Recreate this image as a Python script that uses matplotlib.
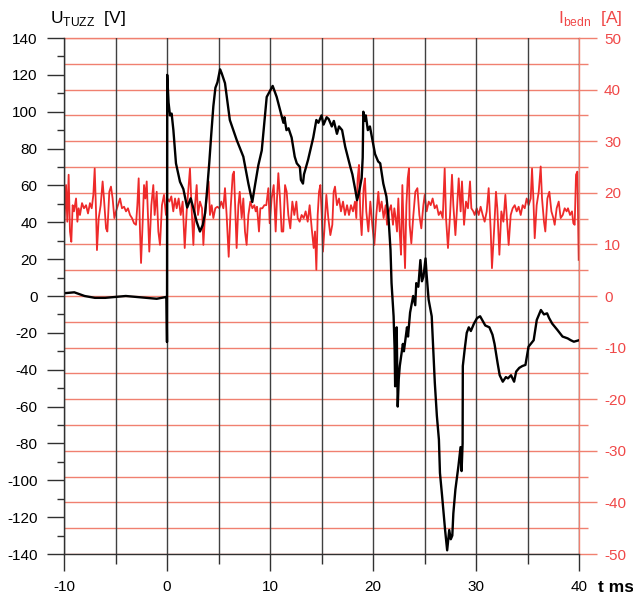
import matplotlib
matplotlib.use('Agg')
import numpy as np
import matplotlib.pyplot as plt
from matplotlib.ticker import MultipleLocator

plt.rcParams['font.family'] = ['Liberation Sans', 'DejaVu Sans']
plt.rcParams['mathtext.fontset'] = 'custom'
plt.rcParams['mathtext.rm'] = 'Liberation Sans'
plt.rcParams['axes.unicode_minus'] = False

# ── Data ────────────────────────────────────────────────────────────────────

# U_TUZZ [V] vs t [ms]
t_u = [-10.0, -9.0, -8.5, -8.0, -7.5, -7.0, -6.0, -5.0, -4.0, -3.0, -2.0,
       -1.0, -0.5, -0.05, 0.0, 0.02, 0.15, 0.29, 0.45, 0.62, 0.87, 1.26,
       1.59, 1.96, 2.3, 2.56, 2.88, 3.2, 3.47, 3.7, 3.9, 4.1, 4.3, 4.5, 4.7,
       4.9, 5.15, 5.3, 5.63, 6.1, 6.77, 7.41, 7.9, 8.28, 8.54, 8.87, 9.2,
       9.68, 10.26, 10.65, 10.97, 11.3, 11.4, 11.6, 11.8, 12.1, 12.4, 12.6,
       12.9, 13.0, 13.2, 13.3, 13.4, 13.7, 14.2, 14.5, 14.7, 15.0, 15.2,
       15.5, 15.7, 16.0, 16.2, 16.5, 16.7, 17.0, 17.3, 17.8, 18.0, 18.3,
       18.45, 18.6, 18.9, 19.0, 19.06, 19.2, 19.3, 19.5, 19.7, 19.9, 20.2,
       20.5, 20.7, 21.0, 21.3, 21.5, 21.7, 21.8, 22.0, 22.1, 22.15, 22.2,
       22.3, 22.4, 22.5, 22.6, 22.9, 23.0, 23.3, 23.4, 23.6, 23.9, 24.1,
       24.2, 24.4, 24.6, 24.75, 24.9, 25.1, 25.2, 25.4, 25.7, 26.0, 26.2,
       26.4, 26.5, 26.7, 27.0, 27.2, 27.4, 27.55, 27.7, 27.8, 28.0, 28.3,
       28.5, 28.6, 28.7, 28.72, 28.9, 29.1, 29.3, 29.5, 29.8, 30.1, 30.4,
       30.7, 30.9, 31.3, 31.6, 31.8, 32.1, 32.3, 32.6, 32.9, 33.1, 33.4,
       33.7, 33.9, 34.2, 34.5, 34.8, 35.1, 35.6, 35.9, 36.3, 36.6, 36.9,
       37.1, 37.4, 37.9, 38.4, 38.9, 39.2, 39.5, 40.0]
u_tuzz = [1.5, 2.0, 1.0, 0.0, -0.5, -1.0, -1.0, -0.5, 0.0, -0.5, -1.0,
          -1.5, -1.0, -0.5, -25.0, 120.0, 105.0, 98.0, 99.0, 90.0, 72.0, 62.0,
          58.0, 48.0, 53.0, 47.6, 40.3, 35.0, 38.5, 45.0, 58.0, 72.0, 88.0,
          103.0, 113.0, 116.0, 123.0, 121.0, 115.5, 95.5, 84.6, 75.6, 61.0,
          51.0, 60.0, 71.0, 79.0, 108.0, 114.0, 108.0, 101.0, 94.0, 97.0,
          90.0, 91.0, 86.0, 75.6, 72.0, 70.0, 63.0, 61.0, 66.0, 68.0, 74.0,
          86.0, 95.5, 94.0, 98.0, 93.0, 97.0, 96.0, 92.0, 95.0, 88.0, 92.0,
          90.0, 81.0, 70.0, 66.0, 57.0, 52.0, 55.0, 64.0, 75.0, 100.0, 95.0,
          98.0, 90.0, 92.0, 86.0, 77.0, 73.0, 72.0, 61.0, 54.0, 43.0, 25.0,
          7.0, -11.0, -29.0, -49.0, -30.0, -17.0, -60.0, -45.0, -38.0, -26.0,
          -30.0, -17.0, -22.0, -9.0, 0.0, -5.0, 7.0, 5.0, 19.5, 8.0, 10.5,
          20.4, 12.0, -2.0, -11.0, -47.0, -65.0, -78.0, -96.0, -108.0, -127.0,
          -138.0, -127.0, -132.0, -130.0, -118.0, -105.0, -92.0, -82.0, -95.0,
          -80.0, -38.0, -29.0, -20.0, -17.0, -19.0, -15.0, -12.0, -11.0, -14.0,
          -16.0, -17.0, -21.0, -26.0, -36.5, -43.0, -46.5, -44.0, -44.7, -43.0,
          -46.5, -41.0, -39.0, -38.0, -37.4, -27.5, -24.0, -13.0, -7.6, -10.0,
          -9.4, -12.0, -15.0, -18.4, -22.0, -23.0, -24.0, -24.8, -24.0]

# I_bedn [A] vs t [ms]
t_i = [-10.0, -9.80, -9.68, -9.55, -9.42, -9.29, -9.16, -9.03, -8.83, -8.70,
       -8.58, -8.45, -8.25, -8.06, -7.86, -7.67, -7.48, -7.31, -7.15, -7.02,
       -6.89, -6.80, -6.63, -6.44, -6.25, -6.12, -5.92, -5.79, -5.60, -5.44,
       -5.28, -5.11, -4.95, -4.76, -4.56, -4.37, -4.17, -3.98, -3.79, -3.59,
       -3.40, -3.20, -3.01, -2.88, -2.75, -2.62, -2.52, -2.36, -2.23, -2.10,
       -1.97, -1.85, -1.72, -1.52, -1.33, -1.20, -1.00, -0.84, -0.68, -0.49,
       -0.29, -0.10, 0.03, 0.23, 0.42, 0.61, 0.78, 0.94, 1.13, 1.33, 1.52,
       1.72, 1.91, 2.10, 2.23, 2.39, 2.56, 2.72, 2.88, 3.01, 3.20, 3.40,
       3.53, 3.69, 3.85, 4.04, 4.17, 4.34, 4.50, 4.69, 4.89, 5.08, 5.27,
       5.47, 5.63, 5.79, 5.99, 6.18, 6.38, 6.50, 6.63, 6.76, 6.93, 7.06,
       7.25, 7.41, 7.57, 7.73, 7.90, 8.09, 8.29, 8.48, 8.61, 8.74, 8.93,
       9.06, 9.26, 9.45, 9.64, 9.84, 9.97, 10.16, 10.36, 10.55, 10.68, 10.81,
       10.97, 11.13, 11.29, 11.46, 11.62, 11.78, 11.97, 12.17, 12.36, 12.56,
       12.69, 12.88, 13.07, 13.27, 13.46, 13.66, 13.85, 14.05, 14.24, 14.37,
       14.50, 14.63, 14.76, 14.89, 15.02, 15.14, 15.27, 15.47, 15.66, 15.86,
       16.05, 16.18, 16.31, 16.50, 16.70, 16.89, 17.09, 17.28, 17.48, 17.67,
       17.86, 18.06, 18.25, 18.38, 18.51, 18.64, 18.77, 18.90, 19.09, 19.22,
       19.35, 19.55, 19.74, 19.93, 20.13, 20.32, 20.52, 20.65, 20.84, 21.03,
       21.23, 21.36, 21.55, 21.75, 21.94, 22.07, 22.20, 22.33, 22.46, 22.59,
       22.72, 22.85, 22.98, 23.11, 23.24, 23.37, 23.49, 23.56, 23.72, 23.92,
       24.11, 24.31, 24.50, 24.69, 24.89, 25.02, 25.21, 25.41, 25.60, 25.79,
       25.99, 26.18, 26.38, 26.57, 26.77, 26.96, 27.09, 27.28, 27.48, 27.67,
       27.80, 28.00, 28.12, 28.32, 28.51, 28.64, 28.84, 29.03, 29.22, 29.42,
       29.55, 29.74, 29.87, 30.07, 30.26, 30.45, 30.65, 30.84, 31.04, 31.23,
       31.43, 31.55, 31.75, 31.94, 32.07, 32.27, 32.46, 32.66, 32.85, 32.98,
       33.17, 33.37, 33.56, 33.76, 33.95, 34.14, 34.34, 34.53, 34.73, 34.92,
       35.11, 35.31, 35.44, 35.57, 35.70, 35.89, 36.09, 36.28, 36.41, 36.60,
       36.73, 36.93, 37.12, 37.32, 37.51, 37.64, 37.83, 38.03, 38.22, 38.42,
       38.61, 38.80, 38.93, 39.13, 39.32, 39.45, 39.58, 39.71, 39.84, 39.97]
i_bedn = [12.5, 21.5, 14.4, 23.5, 12.5, 10.5, 17.6, 16.4, 18.9, 14.4,
          17.0, 15.7, 18.0, 17.0, 17.6, 16.0, 18.0, 17.0, 19.6, 24.7,
          16.4, 8.9, 15.1, 17.6, 22.2, 18.9, 13.1, 12.5, 20.2, 21.2,
          18.9, 15.1, 16.4, 17.6, 18.9, 17.0, 17.3, 16.4, 17.0, 15.7,
          15.1, 14.1, 13.8, 17.6, 22.8, 12.5, 6.4, 14.4, 21.5, 18.9,
          22.2, 15.7, 8.6, 17.6, 21.5, 15.7, 20.2, 12.5, 9.9, 17.6,
          19.6, 15.7, 18.9, 18.3, 19.3, 16.4, 18.9, 17.0, 18.9, 15.7, 18.3,
          9.3, 16.4, 21.5, 24.7, 17.0, 9.9, 17.6, 21.5, 15.7, 18.3, 17.0,
          9.9, 15.7, 18.9, 22.2, 15.7, 17.6, 15.1, 17.0, 17.3, 17.0, 18.3,
          17.0, 20.9, 15.7, 7.6, 17.0, 23.5, 24.1, 16.4, 9.3, 17.6, 20.2,
          15.1, 18.9, 12.5, 9.9, 15.7, 18.3, 17.0, 17.6, 16.4, 17.3, 12.5,
          17.0, 17.0, 17.6, 17.6, 20.9, 14.1, 18.9, 21.5, 12.5, 18.9, 23.8,
          18.9, 12.5, 12.5, 21.5, 20.2, 15.7, 13.1, 18.3, 15.7, 18.3,
          15.1, 14.4, 15.7, 15.1, 16.4, 14.4, 17.6, 13.1, 9.3, 12.5,
          5.1, 15.7, 20.2, 21.5, 15.7, 8.6, 12.5, 19.6, 15.1, 11.8,
          13.8, 20.2, 21.2, 17.6, 18.9, 16.4, 18.3, 15.7, 17.6, 15.7,
          17.6, 16.4, 18.3, 15.1, 22.8, 25.4, 15.7, 11.8, 20.9, 22.8,
          16.4, 12.5, 18.3, 13.8, 9.9, 15.7, 20.2, 16.4, 18.3, 15.1,
          17.6, 13.8, 16.4, 17.6, 13.8, 17.0, 15.1, 12.5, 18.9, 12.5,
          8.0, 21.5, 12.5, 5.4, 17.6, 22.8, 24.7, 13.8, 10.2, 15.7,
          20.2, 20.9, 15.7, 13.1, 17.6, 19.6, 16.4, 18.3, 17.6, 18.9,
          17.0, 17.6, 15.7, 16.4, 15.1, 24.7, 15.1, 9.3, 15.7, 23.5,
          17.6, 11.8, 15.7, 22.8, 16.4, 22.2, 13.8, 18.3, 17.0, 22.2,
          17.0, 16.4, 15.7, 17.0, 15.7, 17.3, 15.7, 14.4, 16.4, 20.9,
          12.5, 5.4, 12.5, 20.2, 17.0, 8.0, 16.4, 14.4, 19.6, 15.7,
          9.9, 15.7, 17.0, 17.6, 16.4, 17.3, 15.7, 17.6, 17.0, 18.9,
          17.6, 18.9, 24.7, 18.9, 11.2, 17.6, 20.2, 25.1, 18.9, 14.4,
          12.5, 18.9, 20.2, 16.4, 15.1, 13.8, 17.0, 18.3, 15.1, 15.7,
          17.0, 16.4, 17.0, 15.7, 16.4, 14.1, 13.8, 23.5, 24.1, 7.0]

x_major = [-10, 0, 10, 20, 30, 40]
u_major = list(range(-140, 141, 20))
i_major = list(range(-50, 51, 10))

RED_GRID = '#f08070'
RED_TEXT = '#f04848'
RED_LINE = '#ee2a2a'

# ── Figure ──────────────────────────────────────────────────────────────────

fig = plt.figure(figsize=(6.33, 6.0), dpi=100)
ax = fig.add_axes([64 / 633, 46 / 600, 515 / 633, 516 / 600])
ax2 = ax.twinx()
ax.set_zorder(ax2.get_zorder() + 1)
ax.patch.set_visible(False)

# Corriente (eje derecho)
ax2.plot(t_i, i_bedn, color=RED_LINE, linewidth=1.3)
ax2.set_ylim(-50, 50)
ax2.set_yticks(i_major)
ax2.yaxis.set_minor_locator(MultipleLocator(5))
ax2.grid(True, axis='y', which='both', color=RED_GRID, linewidth=1.0)
ax2.tick_params(axis='y', which='major', length=13, width=1.0,
                color=RED_GRID, labelcolor=RED_TEXT, labelsize=11, pad=5)
ax2.tick_params(axis='y', which='minor', length=6.5, width=1.0,
                color=RED_GRID)
for side in ('left', 'bottom'):
    ax2.spines[side].set_visible(False)
for side in ('top', 'right'):
    ax2.spines[side].set_color(RED_GRID)
    ax2.spines[side].set_linewidth(1.0)

# Tensión (eje izquierdo)
ax.plot(t_u, u_tuzz, color='black', linewidth=1.7)
ax.set_xlim(-10, 40)
ax.set_ylim(-140, 140)
ax.set_xticks(x_major)
ax.xaxis.set_minor_locator(MultipleLocator(5))
ax.set_yticks(u_major)
ax.yaxis.set_minor_locator(MultipleLocator(10))
ax.grid(True, axis='x', which='both', color='#404040', linewidth=1.0)
ax.tick_params(axis='x', which='major', length=12, width=1.0,
               color='#303030', labelsize=11, pad=7)
ax.tick_params(axis='x', which='minor', length=7, width=1.0,
               color='#303030')
ax.tick_params(axis='y', which='major', length=12, width=1.0,
               color='#303030', labelsize=11, pad=7)
ax.tick_params(axis='y', which='minor', length=5, width=1.0,
               color='#303030')
ax.spines['top'].set_visible(False)
ax.spines['right'].set_visible(False)
for side in ('left', 'bottom'):
    ax.spines[side].set_color('#303030')
    ax.spines[side].set_linewidth(1.0)

# Rótulos
fig.text(50 / 633, 1 - 18 / 600, r'U$_{\mathrm{TUZZ}}$  [V]', fontsize=12.5,
         ha='left', va='center')
fig.text(622 / 633, 1 - 18 / 600, r'I$_{\mathrm{bedn}}$  [A]', fontsize=12.5,
         color=RED_TEXT, ha='right', va='center')
fig.text(598 / 633, 1 - 588 / 600, 't ms', fontsize=12.5, fontweight='bold',
         ha='left', va='center')

fig.savefig('out.png', dpi=100)
